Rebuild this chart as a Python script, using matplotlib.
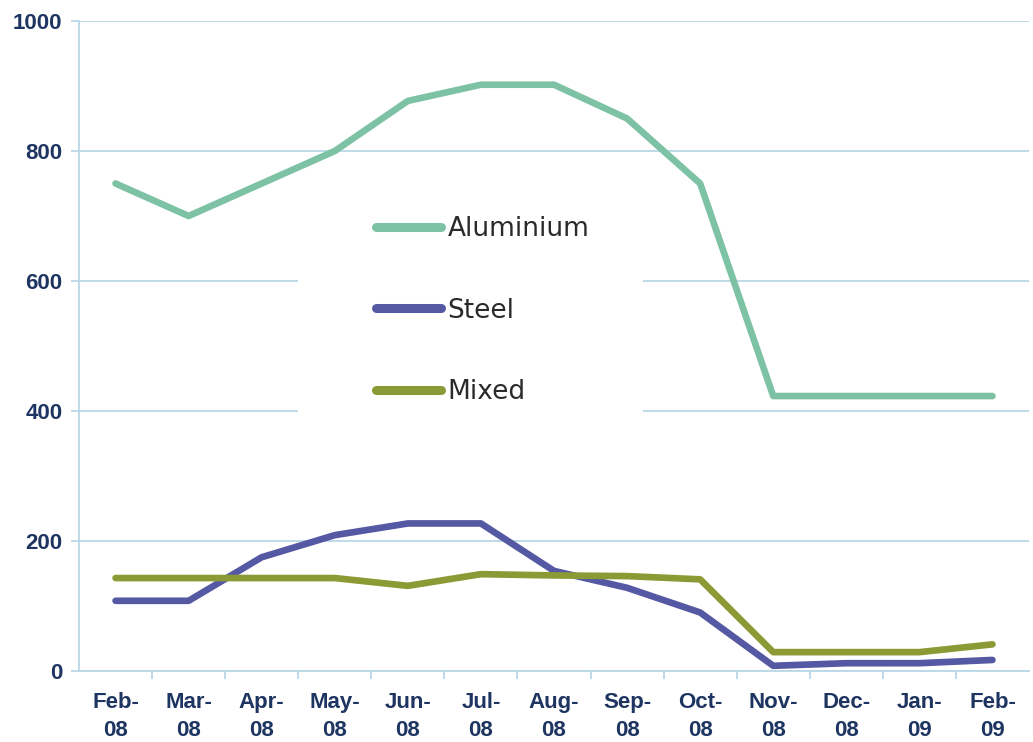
import matplotlib
matplotlib.use("Agg")
import matplotlib.pyplot as plt
from matplotlib.patches import Rectangle

categories = ["Feb-\n08", "Mar-\n08", "Apr-\n08", "May-\n08", "Jun-\n08", "Jul-\n08",
              "Aug-\n08", "Sep-\n08", "Oct-\n08", "Nov-\n08", "Dec-\n08", "Jan-\n09", "Feb-\n09"]
aluminium = [750, 700, 750, 800, 877, 902, 902, 850, 750, 423, 423, 423, 423]
steel = [108, 108, 175, 209, 227, 227, 154, 128, 90, 8, 12, 12, 17]
mixed = [143, 143, 143, 143, 131, 149, 147, 146, 141, 29, 29, 29, 41]
yticks = [0, 200, 400, 600, 800, 1000]

C_AL = "#7DC2A5"
C_ST = "#5558A2"
C_MX = "#8C9A36"
GRID = "#B9D8E8"
NAVY = "#1E3461"

W, H = 1033, 742
fig = plt.figure(figsize=(W / 100, H / 100), dpi=100)
ax = fig.add_axes([79 / W, 71 / H, (1029 - 79) / W, 650 / H])

x = list(range(len(categories)))
lw = 4.8
ax.plot(x, aluminium, color=C_AL, lw=lw, solid_capstyle="round", solid_joinstyle="round", label="Aluminium", zorder=3)
ax.plot(x, steel, color=C_ST, lw=lw, solid_capstyle="round", solid_joinstyle="round", label="Steel", zorder=3)
ax.plot(x, mixed, color=C_MX, lw=lw, solid_capstyle="round", solid_joinstyle="round", label="Mixed", zorder=3)

ax.set_xlim(-0.5, len(categories) - 0.5)
ax.set_ylim(0, 1000)
ax.set_yticks(yticks)
ax.set_yticklabels([str(v) for v in yticks])
ax.set_xticks(x)
ax.set_xticklabels(categories)
ax.set_xticks([i - 0.5 for i in range(1, len(categories))], minor=True)

ax.grid(axis="y", color=GRID, lw=1.3, zorder=0)
ax.set_axisbelow(True)
for s in ["top", "right"]:
    ax.spines[s].set_visible(False)
for s in ["left", "bottom"]:
    ax.spines[s].set_color(GRID)
    ax.spines[s].set_linewidth(1.3)

ax.tick_params(axis="y", colors=GRID, length=6, width=1.3, pad=6, labelcolor=NAVY)
ax.tick_params(axis="x", which="major", length=0, pad=15, labelcolor=NAVY)
ax.tick_params(axis="x", which="minor", colors=GRID, length=6, width=1.3)
for lab in ax.get_yticklabels():
    lab.set_fontfamily(["Liberation Sans", "DejaVu Sans"])
    lab.set_fontweight("bold")
    lab.set_fontsize(16)
for lab in ax.get_xticklabels():
    lab.set_fontfamily(["Liberation Sans", "DejaVu Sans"])
    lab.set_fontweight("bold")
    lab.set_fontsize(16)
    lab.set_linespacing(1.45)

# white legend backdrop
ax.add_patch(Rectangle((219 / 950, (671 - 455) / 650), 345 / 950, 265 / 650,
                       transform=ax.transAxes, facecolor="white", edgecolor="none", zorder=1.5))

leg = ax.legend(loc="upper left", bbox_to_anchor=((363 - 79) / 950, (671 - 203) / 650),
                frameon=False, handlelength=2.45, handletextpad=0.25,
                labelspacing=2.1, borderpad=0,
                prop={"family": ["Liberation Sans Narrow", "DejaVu Sans"], "size": 19})
for t in leg.get_texts():
    t.set_color("#2a2a2a")
for h in leg.get_lines():
    h.set_linewidth(6.5)

fig.savefig("out.png", dpi=100)
